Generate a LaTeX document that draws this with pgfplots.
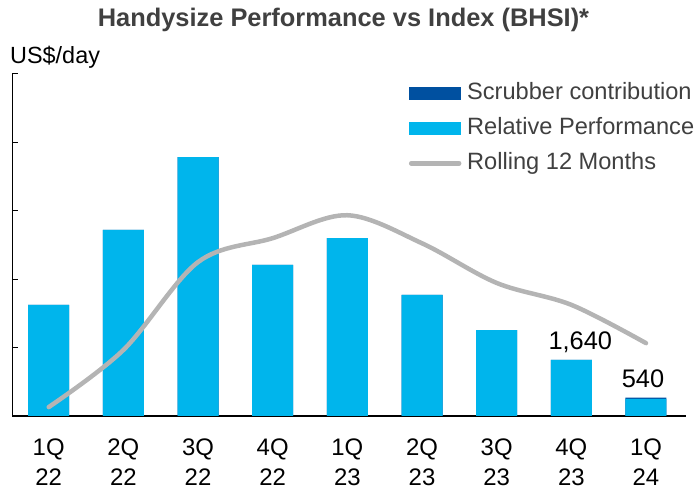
\documentclass[border=0pt]{standalone}
\usepackage{fontspec}
\setmainfont{Liberation Sans}
\usepackage{pgfplots}
\usepackage{pgfplotstable}
\pgfplotsset{compat=1.18}
\definecolor{relblue}{HTML}{00B5EC}
\definecolor{scrblue}{HTML}{0050A0}
\definecolor{rollgray}{HTML}{B4B4B4}
\definecolor{txtgray}{HTML}{404040}
\pgfplotstableread{
x rel scr roll
0 3250 0 260
1 5440 0 1930
2 7570 0 4500
3 4420 0 5200
4 5200 0 5870
5 3540 0 5050
6 2510 0 3890
7 1640 0 3250
8 500 40 2130
}\datatable
\begin{document}
\begin{tikzpicture}[x=1bp,y=1bp]
\useasboundingbox (0,0) rectangle (700,493);
\node[anchor=base, font=\fontsize{25.5}{30}\selectfont\bfseries, text=txtgray, inner sep=0] at (343.5,466) {Handysize Performance vs Index (BHSI)*};
\node[anchor=base west, font=\fontsize{23.5}{28}\selectfont, inner sep=0] at (10,429) {US\$/day};
\begin{axis}[
  at={(12.3bp,77bp)}, anchor=south west, scale only axis,
  width=673.7bp, height=342bp,
  xmin=-0.4875, xmax=8.536, ymin=0, ymax=10000,
  axis lines=left, axis line style={-, line width=1.3bp, black},
  xtick={0,...,8},
  xticklabels={{1Q\\22},{2Q\\22},{3Q\\22},{4Q\\22},{1Q\\23},{2Q\\23},{3Q\\23},{4Q\\23},{1Q\\24}},
  x tick label style={align=center, font=\fontsize{24}{30.3}\selectfont, yshift=-19bp},
  x tick style={draw=none},
  ytick={0,2000,...,10000}, yticklabels={}, scaled y ticks=false,
  y tick style={black, line width=1bp},
  tick align=inside, major tick length=6bp,
  legend style={at={(0.584,0.985)}, anchor=north west, draw=none, fill=none,
    font=\fontsize{23.7}{28}\selectfont, text=txtgray, row sep=11bp,
    nodes={inner ysep=0pt, text height=18bp, text depth=6bp},
    legend cell align=left},
  clip=false,
]
\addplot[ybar, bar width=41bp, bar shift=0pt, fill=scrblue, draw=none, forget plot]
  table[x=x, y expr=\thisrow{rel}+\thisrow{scr}] {\datatable};
\addplot[ybar, bar width=41bp, bar shift=0pt, fill=relblue, draw=none, forget plot]
  table[x=x, y=rel] {\datatable};
\addplot[rollgray, line width=4.5bp, line cap=round, smooth, tension=0.55, forget plot]
  table[x=x, y=roll] {\datatable};
\addlegendimage{draw=none, legend image code/.code={\fill[scrblue, draw=none] (0bp,-6.5bp) rectangle (52bp,6.5bp); \path[draw=none, fill=none] (0,0) -- (56bp,0);}}
\addlegendentry{Scrubber contribution}
\addlegendimage{draw=none, legend image code/.code={\fill[relblue, draw=none] (0bp,-6.5bp) rectangle (52bp,6.5bp); \path[draw=none, fill=none] (0,0) -- (56bp,0);}}
\addlegendentry{Relative Performance}
\addlegendimage{draw=none, legend image code/.code={\draw[draw=rollgray, line width=4.5bp, line cap=round] (2bp,0) -- (50bp,0); \path[draw=none, fill=none] (0,0) -- (56bp,0);}}
\addlegendentry{Rolling 12 Months}
\node[anchor=base, font=\fontsize{25.5}{30}\selectfont, inner sep=0] at (axis cs:7.12,1930) {1,640};
\node[anchor=base, font=\fontsize{25.5}{30}\selectfont, inner sep=0] at (axis cs:7.96,819) {540};
\end{axis}
\end{tikzpicture}
\end{document}
